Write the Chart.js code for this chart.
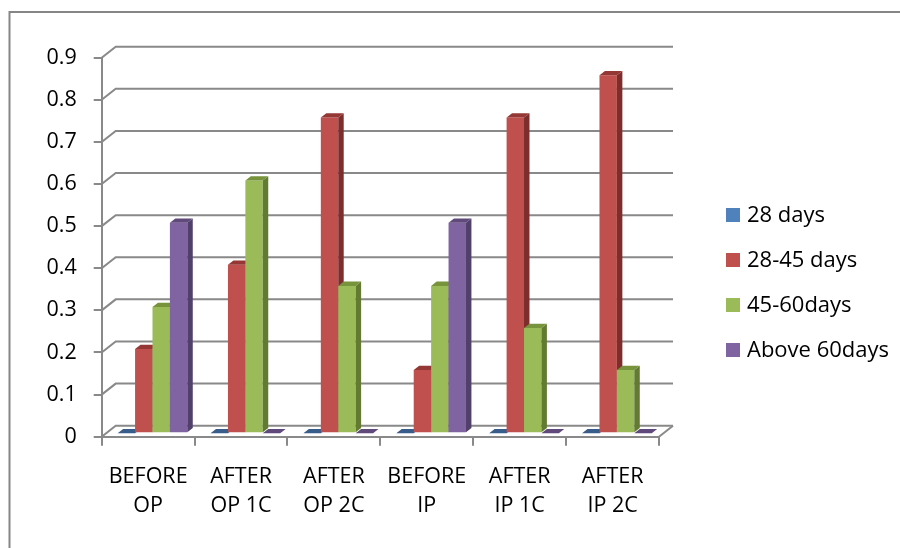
<!DOCTYPE html>
<html>
<head>
<meta charset="utf-8">
<script src="https://cdn.jsdelivr.net/npm/chart.js@4/dist/chart.umd.min.js"></script>
<style>
  html, body { margin: 0; padding: 0; background: #fff; }
  canvas { display: block; }
</style>
</head>
<body>
<canvas id="c" width="900" height="548"></canvas>
<script>
// Categories (two-line labels) and series values
const categories = [
  ['BEFORE', 'OP'],
  ['AFTER', 'OP 1C'],
  ['AFTER', 'OP 2C'],
  ['BEFORE', 'IP'],
  ['AFTER', 'IP 1C'],
  ['AFTER', 'IP 2C']
];
const seriesNames = ['28 days', '28-45 days', '45-60days', 'Above 60days'];
const days28      = [0, 0, 0, 0, 0, 0];
const days28to45  = [0.2, 0.4, 0.75, 0.15, 0.75, 0.85];
const days45to60  = [0.3, 0.6, 0.35, 0.35, 0.25, 0.15];
const above60     = [0.5, 0, 0, 0.5, 0, 0];
const yTickValues = [0, 0.1, 0.2, 0.3, 0.4, 0.5, 0.6, 0.7, 0.8, 0.9];

// Face colours: front, top, side
const palette = [
  { front: '#4F81BD', top: '#385D8A', side: '#2E4C72' },
  { front: '#C0504D', top: '#953735', side: '#7D2E2C' },
  { front: '#9BBB59', top: '#77933C', side: '#627A32' },
  { front: '#8064A2', top: '#604A7B', side: '#51406A' }
];

// 3-D geometry: wall depth offset and where the bars sit in depth
const WALL = { dx: 14, dy: -11 };
const BAR_FRONT = 0.31;   // fraction of wall depth where bar front faces are
const BAR_DEPTH = 0.39;   // fraction of wall depth occupied by each bar
const AXIS_GREY = '#898989';

const FONT = 'Open Sans';
Chart.defaults.font.family = FONT;
Chart.defaults.font.size = 21.5;
Chart.defaults.color = '#000';

const seriesValues = [days28, days28to45, days45to60, above60];

// Back wall, floor edges and bars with their top/side faces
const pseudo3d = {
  id: 'pseudo3d',
  beforeDatasetsDraw(chart) {
    const ctx = chart.ctx;
    const { left, right, bottom } = chart.chartArea;
    const y = chart.scales.y;
    ctx.save();
    ctx.strokeStyle = AXIS_GREY;
    ctx.lineWidth = 2;
    ctx.lineCap = 'butt';
    yTickValues.forEach(v => {
      const py = y.getPixelForValue(v);
      ctx.beginPath();
      ctx.moveTo(left, py);
      ctx.lineTo(left + WALL.dx, py + WALL.dy);
      ctx.lineTo(right + WALL.dx, py + WALL.dy);
      ctx.stroke();
    });
    // right edge of the floor
    ctx.beginPath();
    ctx.moveTo(right, bottom);
    ctx.lineTo(right + WALL.dx, bottom + WALL.dy);
    ctx.stroke();
    ctx.restore();

    // bars, drawn category by category so neighbours overlap correctly
    const sx = WALL.dx * BAR_FRONT, sy = WALL.dy * BAR_FRONT;
    const bdx = WALL.dx * BAR_DEPTH, bdy = WALL.dy * BAR_DEPTH;
    const metas = chart.data.datasets.map((d, i) => chart.getDatasetMeta(i));
    ctx.save();
    ctx.translate(sx, sy);
    for (let j = 0; j < categories.length; j++) {
      metas.forEach((meta, i) => {
        const el = meta.data[j];
        if (!el) return;
        const { x, y: top, base, width } = el.getProps(['x', 'y', 'base', 'width'], true);
        const x0 = x - width / 2, x1 = x + width / 2;
        el.draw(ctx, chart.chartArea);
        // side face
        ctx.fillStyle = palette[i].side;
        ctx.beginPath();
        ctx.moveTo(x1, base);
        ctx.lineTo(x1 + bdx, base + bdy);
        ctx.lineTo(x1 + bdx, top + bdy);
        ctx.lineTo(x1, top);
        ctx.closePath();
        ctx.fill();
        // top face
        ctx.fillStyle = palette[i].top;
        ctx.beginPath();
        ctx.moveTo(x0, top);
        ctx.lineTo(x1, top);
        ctx.lineTo(x1 + bdx, top + bdy);
        ctx.lineTo(x0 + bdx, top + bdy);
        ctx.closePath();
        ctx.fill();
      });
    }
    ctx.restore();
    return false;
  }
};

// Outer frame and legend
const frameAndLegend = {
  id: 'frameAndLegend',
  beforeDraw(chart) {
    const ctx = chart.ctx;
    ctx.save();
    ctx.fillStyle = '#fff';
    ctx.fillRect(0, 0, chart.width, chart.height);
    ctx.strokeStyle = '#868686';
    ctx.lineWidth = 2;
    ctx.beginPath();
    ctx.moveTo(9.5, chart.height + 2);
    ctx.lineTo(9.5, 12);
    ctx.lineTo(chart.width + 2, 12);
    ctx.stroke();
    ctx.restore();
  },
  afterDraw(chart) {
    const ctx = chart.ctx;
    ctx.save();
    ctx.font = '22px "' + FONT + '"';
    ctx.textBaseline = 'middle';
    ctx.textAlign = 'left';
    chart.data.datasets.forEach((ds, i) => {
      const cy = 215 + i * 45;
      ctx.fillStyle = ds.backgroundColor;
      ctx.fillRect(726, cy - 7, 14, 14);
      ctx.fillStyle = '#000';
      ctx.fillText(ds.label, 747, cy + 1);
    });
    ctx.restore();
  }
};

new Chart(document.getElementById('c'), {
  type: 'bar',
  data: {
    labels: categories,
    datasets: seriesValues.map((vals, i) => ({
      label: seriesNames[i],
      data: vals,
      backgroundColor: palette[i].front,
      borderWidth: 0,
      barPercentage: 1,
      categoryPercentage: 0.75
    }))
  },
  options: {
    responsive: false,
    devicePixelRatio: 1,
    animation: false,
    layout: { padding: { left: 0, top: 57.7, right: 241, bottom: 0 } },
    plugins: {
      legend: { display: false },
      tooltip: { enabled: false }
    },
    scales: {
      x: {
        offset: true,
        grid: {
          offset: true,
          drawOnChartArea: false,
          drawTicks: true,
          tickLength: 9,
          color: AXIS_GREY,
          lineWidth: 2
        },
        border: { display: true, color: AXIS_GREY, width: 2 },
        ticks: {
          autoSkip: false,
          maxRotation: 0,
          minRotation: 0,
          padding: 16.5,
          font: { size: 21.5, lineHeight: '29px' },
          color: '#000'
        },
        afterFit(scale) { scale.height = 548 - 436.7; }
      },
      y: {
        min: 0,
        max: 0.9,
        afterBuildTicks(scale) { scale.ticks = yTickValues.map(v => ({ value: v })); },
        grid: {
          drawOnChartArea: false,
          drawTicks: true,
          tickLength: 8,
          color: AXIS_GREY,
          lineWidth: 2
        },
        border: { display: true, color: AXIS_GREY, width: 2 },
        ticks: {
          padding: 17,
          font: { size: 21.5 },
          color: '#000',
          callback: v => String(v)
        },
        afterFit(scale) { scale.width = 101.7; }
      }
    }
  },
  plugins: [frameAndLegend, pseudo3d]
});
</script>
</body>
</html>
